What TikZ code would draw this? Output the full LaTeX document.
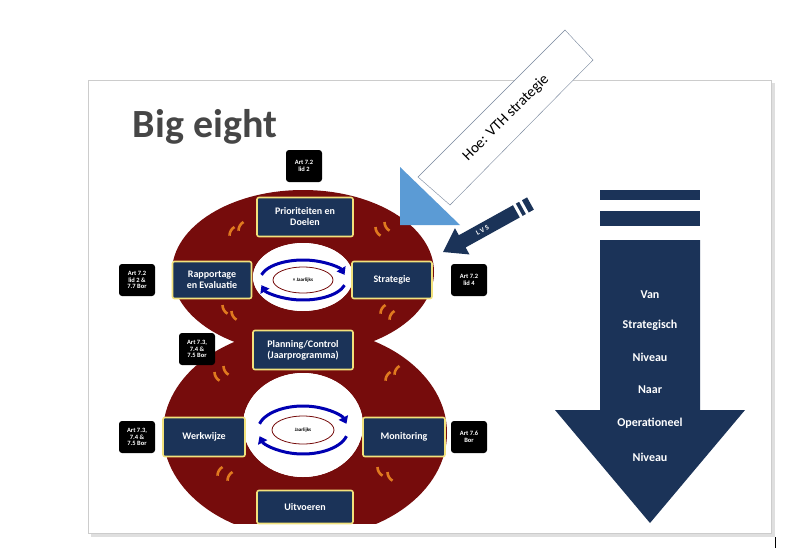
\documentclass[tikz,border=0pt]{standalone}
\usepackage{fontspec}
\setmainfont{Carlito}
\usetikzlibrary{arrows.meta,shapes.geometric}
\definecolor{navy}{HTML}{1B3358}
\definecolor{ered}{HTML}{760C0C}
\definecolor{ybord}{HTML}{F2E27C}
\definecolor{lblue}{HTML}{5B9BD5}
\definecolor{orng}{HTML}{E07A1F}
\begin{document}
\begin{tikzpicture}[x=1pt,y=-1pt,
  box/.style={draw=ybord,line width=1.6pt,fill=navy,rounded corners=2pt,text=white,font=\bfseries\fontsize{10}{11}\selectfont,align=center,inner sep=1pt},
  art/.style={fill=black,rounded corners=3pt,text=white,font=\bfseries\fontsize{6.5}{6.5}\selectfont,align=center,minimum width=36pt,minimum height=32pt,inner sep=1pt},
  cyc/.style={draw=blue!70!black,line width=3pt,-{Triangle[width=10pt,length=7pt]}},
  tick/.style={draw=orng,line width=2.6pt},
  big/.style={fill=navy}]
\useasboundingbox (0,0) rectangle (786,549);
\fill[white] (0,0) rectangle (786,549);
% slide
\fill[gray!25] (91,83) rectangle (775,537);
\draw[gray!40,fill=white] (88,80) rectangle (771,533);
% title
\node[font=\bfseries\fontsize{40}{40}\selectfont,text=gray!55!black,inner sep=0pt] (title) at (205,127) {Big eight};
% eight
\begin{scope}
\clip (88,80) rectangle (771,523);
\fill[ered,even odd rule] (303,272) ellipse [x radius=131,y radius=82] (303,277) ellipse [x radius=50,y radius=34];
\fill[ered,even odd rule] (305,433) ellipse [x radius=142,y radius=105] (303,425) ellipse [x radius=60,y radius=52];
\fill[white] (303,277) ellipse [x radius=50,y radius=34];
\fill[white] (303,425) ellipse [x radius=60,y radius=52];
\end{scope}
% orange ticks
\foreach \x/\y/\a in {227/240/-30,236/235/-30,383/240/30,392/235/30,230/318/30,239/324/30,378/318/-30,387/324/-30,222/385/30,231/379/30,383/385/-30,392/379/-30,215/480/-30,225/485/-30,385/480/30,395/485/30}
  \draw[tick,rotate around={\a:(\x,\y)}] (\x,\y-5) arc[start angle=150,end angle=210,radius=10];
% inner ellipses & cycle arrows
\node[draw=ered,line width=0.8pt,ellipse,minimum width=60pt,minimum height=26pt,font=\bfseries\fontsize{5}{5}\selectfont] (j1) at (303,280) {× Jaarlijks};
\node[draw=ered,line width=0.8pt,ellipse,minimum width=62pt,minimum height=28pt,font=\bfseries\fontsize{5}{5}\selectfont] (j2) at (303,430) {Jaarlijks};
\draw[cyc] (303,280) ++(-165:43 and 20) arc[start angle=-165,end angle=-15,x radius=43,y radius=20];
\draw[cyc] (303,280) ++(15:43 and 20) arc[start angle=15,end angle=165,x radius=43,y radius=20];
\draw[cyc] (303,430) ++(-165:45 and 24) arc[start angle=-165,end angle=-15,x radius=45,y radius=24];
\draw[cyc] (303,430) ++(15:45 and 24) arc[start angle=15,end angle=165,x radius=45,y radius=24];
% boxes
\node[box,minimum width=96pt,minimum height=39pt] (prio) at (305,217) {Prioriteiten en\\Doelen};
\node[box,minimum width=79pt,minimum height=37pt] (rapp) at (212,280) {Rapportage\\en Evaluatie};
\node[box,minimum width=80pt,minimum height=37pt] (strat) at (392,280) {Strategie};
\node[box,minimum width=100pt,minimum height=39pt] (plan) at (303,350) {Planning/Control\\(Jaarprogramma)};
\node[box,minimum width=82pt,minimum height=39pt] (werk) at (204,437) {Werkwijze};
\node[box,minimum width=82pt,minimum height=39pt] (moni) at (404,437) {Monitoring};
\node[box,minimum width=96pt,minimum height=33pt] (uitv) at (305,507) {Uitvoeren};
% art labels
\node[art] (a1) at (304,166) {Art 7.2\\lid 2};
\node[art] (a2) at (137,280) {Art 7.2\\lid 2 \&\\7.7 Bor};
\node[art] (a3) at (469,280) {Art 7.2\\lid 4};
\node[art] (a4) at (197,349) {Art 7.3,\\7.4 \&\\7.5 Bor};
\node[art] (a5) at (137,437) {Art 7.3,\\7.4 \&\\7.5 Bor};
\node[art] (a6) at (469,437) {Art 7.6\\Bor};
% blue arrow with text shaft
\fill[lblue] (400,167) -- (400,225) -- (460,225) -- cycle;
\draw[navy!60,fill=white] (418,177) -- (450,205) -- (593,60) -- (565,30) -- cycle;
\node[rotate=45,font=\fontsize{15}{15}\selectfont] (hoe) at (506,118) {Hoe: VTH strategie};
% LVS arrow
\begin{scope}[shift={(443,252)},rotate=29]
\fill[navy] (0,0) -- (22,-15) -- (22,-7) -- (100,-7) -- (100,7) -- (22,7) -- (22,15) -- cycle;
\fill[white] (84,-8) rectangle (87,8);
\fill[white] (91,-8) rectangle (94,8);
\node[text=white,rotate=-29,font=\bfseries\fontsize{7}{7}\selectfont,inner sep=0pt] (lvs) at (45,0) {\rotatebox{58}{L V S}};
\end{scope}
% big down arrow
\fill[big] (600,190) rectangle (700,200);
\fill[big] (600,211) rectangle (700,226);
\fill[big] (600,240) -- (700,240) -- (700,410) -- (745,410) -- (650,523) -- (555,410) -- (600,410) -- cycle;
\foreach \t/\y in {Van/295,Strategisch/325,Niveau/357,Naar/390,Operationeel/423,Niveau/457}
  \node[text=white,font=\bfseries\fontsize{12}{12}\selectfont] at (650,\y) {\t};
\draw (775,537) -- (775,548);
\end{tikzpicture}
\end{document}
